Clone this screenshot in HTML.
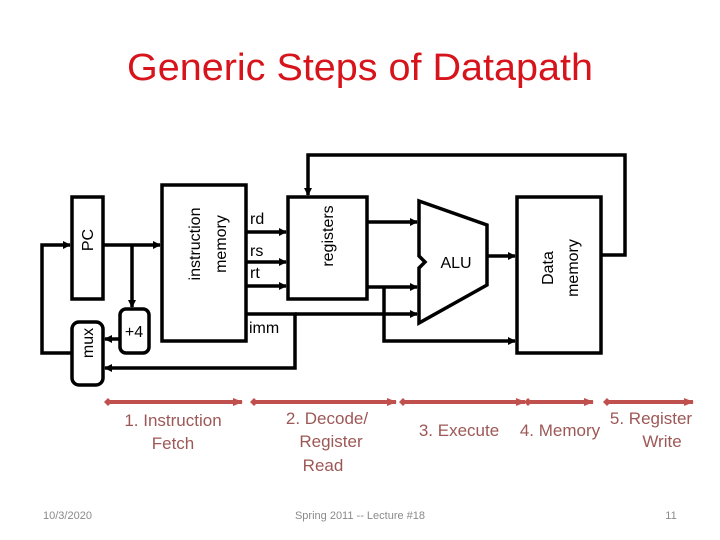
<!DOCTYPE html>
<html><head><meta charset="utf-8"><style>
html,body{margin:0;padding:0;background:#fff;}
svg{display:block;font-family:"Liberation Sans",sans-serif;}
</style></head><body>
<svg width="720" height="540" viewBox="0 0 720 540" xmlns="http://www.w3.org/2000/svg">
<defs>
<marker id="a" markerWidth="8" markerHeight="8" refX="7" refY="4" orient="auto" markerUnits="userSpaceOnUse"><path d="M0,0 L8,4 L0,8 z" fill="#000"/></marker>
<marker id="r" markerWidth="10" markerHeight="8" refX="9" refY="4" orient="auto" markerUnits="userSpaceOnUse"><path d="M0,0 L10,4 L0,8 z" fill="#c0504d"/></marker>
<marker id="rs" markerWidth="8" markerHeight="8" refX="4" refY="4" orient="auto" markerUnits="userSpaceOnUse"><path d="M0,4 L4,0 L8,4 L4,8 z" fill="#c0504d"/></marker>
</defs>
<text x="360" y="80" text-anchor="middle" font-size="38" fill="#d7141c" textLength="466" lengthAdjust="spacingAndGlyphs">Generic Steps of Datapath</text>
<g fill="none" stroke="#000" stroke-width="3.5">
<rect x="72" y="197" width="31" height="102" fill="#fff"/>
<rect x="72" y="322" width="31" height="63" rx="7" fill="#fff"/>
<rect x="120" y="309" width="29" height="44" rx="6" fill="#fff"/>
<rect x="162" y="185" width="84" height="156" fill="#fff"/>
<rect x="288" y="197" width="79" height="102" fill="#fff"/>
<rect x="517" y="197" width="84" height="156" fill="#fff"/>
<path d="M419,201 L487,225 L487,285 L419,323 L419,268 L425,262 L419,256 Z" fill="#fff"/>
<polyline points="72,353 42,353 42,245 70,245" marker-end="url(#a)"/>
<line x1="103" y1="245" x2="160" y2="245" marker-end="url(#a)"/>
<line x1="132" y1="245" x2="132" y2="307" marker-end="url(#a)"/>
<line x1="120" y1="339" x2="105" y2="339" marker-end="url(#a)"/>
<polyline points="246,314 295,314 295,368 105,368" marker-end="url(#a)"/>
<line x1="295" y1="314" x2="417" y2="314" marker-end="url(#a)"/>
<line x1="246" y1="232" x2="286" y2="232" marker-end="url(#a)"/>
<line x1="246" y1="262" x2="286" y2="262" marker-end="url(#a)"/>
<line x1="246" y1="286" x2="286" y2="286" marker-end="url(#a)"/>
<line x1="367" y1="222" x2="417" y2="222" marker-end="url(#a)"/>
<line x1="367" y1="287" x2="417" y2="287" marker-end="url(#a)"/>
<polyline points="384,287 384,341 515,341" marker-end="url(#a)"/>
<line x1="487" y1="256" x2="515" y2="256" marker-end="url(#a)"/>
<polyline points="601,255 625,255 625,155 308,155 308,195" marker-end="url(#a)"/>
</g>
<g font-size="16" fill="#000">
<text transform="translate(93,240) rotate(-90)" text-anchor="middle">PC</text>
<text transform="translate(93,343) rotate(-90)" text-anchor="middle">mux</text>
<text x="134" y="337" text-anchor="middle">+4</text>
<text transform="translate(200,244) rotate(-90)" text-anchor="middle">instruction</text>
<text transform="translate(226,244) rotate(-90)" text-anchor="middle">memory</text>
<text transform="translate(333,236) rotate(-90)" text-anchor="middle">registers</text>
<text transform="translate(553,268) rotate(-90)" text-anchor="middle">Data</text>
<text transform="translate(578,268) rotate(-90)" text-anchor="middle">memory</text>
<text x="250" y="224">rd</text>
<text x="250" y="256">rs</text>
<text x="250" y="278">rt</text>
<text x="249" y="333">imm</text>
<text x="456" y="268" text-anchor="middle">ALU</text>
</g>
<g stroke="#c0504d" stroke-width="4" fill="none">
<line x1="108" y1="402" x2="242" y2="402" marker-start="url(#rs)" marker-end="url(#r)"/>
<line x1="254" y1="402" x2="396" y2="402" marker-start="url(#rs)" marker-end="url(#r)"/>
<line x1="403" y1="402" x2="525" y2="402" marker-start="url(#rs)" marker-end="url(#r)"/>
<line x1="528" y1="402" x2="593" y2="402" marker-start="url(#rs)" marker-end="url(#r)"/>
<line x1="607" y1="402" x2="693" y2="402" marker-start="url(#rs)" marker-end="url(#r)"/>
</g>
<g font-size="17" fill="#9c5856" text-anchor="middle">
<text x="173" y="426">1. Instruction</text>
<text x="173" y="449">Fetch</text>
<text x="327" y="424">2. Decode/</text>
<text x="331" y="447">Register</text>
<text x="323" y="471">Read</text>
<text x="459" y="436">3. Execute</text>
<text x="560" y="436">4. Memory</text>
<text x="651" y="424">5. Register</text>
<text x="662" y="447">Write</text>
</g>
<g font-size="11" fill="#8a8a8a">
<text x="43" y="519">10/3/2020</text>
<text x="360" y="519" text-anchor="middle">Spring 2011 -- Lecture #18</text>
<text x="671" y="519" text-anchor="middle">11</text>
</g>
</svg>
</body></html>
